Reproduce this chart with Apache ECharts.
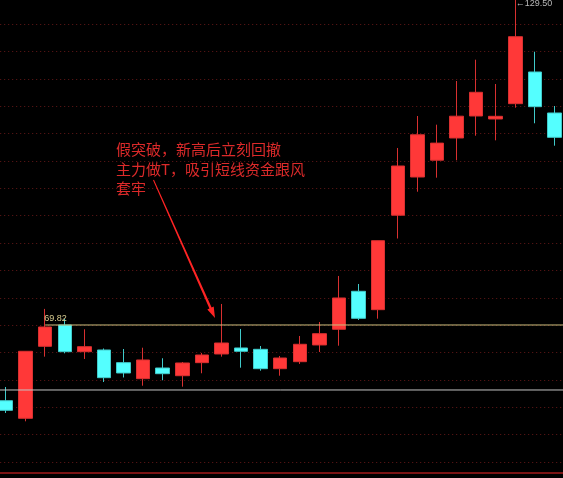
<!DOCTYPE html>
<html><head><meta charset="utf-8">
<style>html,body{margin:0;padding:0;background:#000;overflow:hidden;width:563px;height:478px;position:relative}#c{position:absolute;left:-4px;top:-3px;width:569px;height:481px}</style>
<script src="https://cdn.jsdelivr.net/npm/echarts@6/dist/echarts.min.js"></script>
</head><body><div id="c"></div>
<script>
const categories = ['K01','K02','K03','K04','K05','K06','K07','K08','K09','K10','K11','K12','K13','K14','K15','K16','K17','K18','K19','K20','K21','K22','K23','K24','K25','K26','K27','K28','K29'];
const opens  = [52.08,48.68,62.59,66.71,61.55,61.88,59.43,56.34,58.40,56.91,59.43,61.11,62.27,62.01,58.27,59.62,62.85,65.88,73.22,69.67,87.92,95.30,98.55,102.84,107.09,106.51,109.47,115.59,107.67];
const closes = [50.23,61.63,66.32,61.55,62.52,56.53,57.44,59.95,57.30,59.37,60.91,63.23,61.63,58.27,60.33,62.98,65.03,71.93,68.00,83.00,97.43,103.46,101.85,107.05,111.67,107.03,122.41,108.89,102.97];
const lows   = [49.71,48.10,60.59,61.24,60.14,55.70,56.57,54.98,56.03,54.79,57.38,60.59,58.46,57.88,56.91,59.18,61.49,62.71,67.68,67.93,83.42,92.46,95.17,98.53,103.28,102.39,108.69,105.68,101.35];
const highs  = [54.73,61.65,69.82,67.87,65.88,62.17,62.07,62.32,60.28,59.56,61.30,70.77,65.94,62.65,60.72,64.58,67.29,76.18,74.63,83.02,100.91,107.09,105.41,113.85,117.97,113.27,129.50,119.51,109.02];
const levelPrices = [66.71, 54.15];
const levelStarts = [2, -0.5];
const priceMin = 38.21, priceMax = 130.08;
const gridSteps = 17.39;
const noteLines = ['假突破，新高后立刻回撤','主力做T，吸引短线资金跟风','套牢'];

// the chart container is shifted by (-4, -3) so that the first candle is cut at the left edge
const OX = 4, OY = 3;
const chart = echarts.init(document.getElementById('c'), null, {renderer:'canvas'});
const lastIdx = categories.length - 0.5;
const levelSeries = levelPrices.map((p, k) => ({
  type:'line', xAxisIndex:1, yAxisIndex:0, silent:true, symbol:'none', z:5,
  data:[[levelStarts[k], p],[lastIdx, p]],
  lineStyle:{color: k === 0 ? '#cdbf7e' : '#c4c4c4', width:1}
}));
const arrowPts = [[153.96,179.8],[211.62,307.47],[213.72,306.54],[215,318],[207.33,309.38],[209.42,308.45],[153.04,180.2]]
  .map(p => [p[0] + OX, p[1] + OY]);
chart.setOption({
  animation:false,
  backgroundColor:'#000',
  grid:{left:0.2, right:0.7, top:0, bottom:5.5},
  xAxis:[
    {type:'category', data:categories, boundaryGap:true, position:'bottom',
     axisLine:{show:true, onZero:false, lineStyle:{color:'#7a1414', width:2}},
     axisTick:{show:false}, axisLabel:{show:false}, splitLine:{show:false}},
    {type:'value', min:-0.5, max:categories.length - 0.5, show:false}
  ],
  yAxis:[
    {type:'value', min:priceMin, max:priceMax, show:false, splitLine:{show:false}},
    {type:'value', inverse:true, min:0, max:gridSteps, interval:1, position:'right',
     axisLine:{show:false}, axisTick:{show:false}, axisLabel:{show:false},
     splitLine:{show:true, lineStyle:{color:'#641818', width:1, type:[1,3]}}}
  ],
  series:[
    {type:'candlestick', xAxisIndex:0, yAxisIndex:0, barWidth:14,
     data: opens.map((o,i)=>[o, closes[i], lows[i], highs[i]]),
     itemStyle:{color:'#ff3838', color0:'#54ffff', borderColor:'#d83030', borderColor0:'#40caca', borderWidth:1},
     markPoint:{symbol:'circle', symbolSize:1, silent:true, animation:false,
       itemStyle:{color:'rgba(0,0,0,0)'},
       data:[
         {type:'max', valueDim:'highest',
          label:{show:true, position:'right', distance:0, offset:[0,4], color:'#b8b8b8', fontSize:9, fontFamily:'Liberation Sans',
                 formatter:p=>'←'+Number(p.value).toFixed(2)}},
         {coord:[2, highs[2]], value:highs[2],
          label:{show:true, position:'right', distance:0, offset:[-1.5,10], color:'#d8cc90', fontSize:9, fontFamily:'Liberation Sans',
                 formatter:p=>Number(p.value).toFixed(2)}}
       ]}
    },
    ...levelSeries
  ],
  graphic:[
    {type:'text', left:116 + OX, top:139.5 + OY, z:10, silent:true,
     style:{text:noteLines.join('\n'), fill:'#dc2a2a', font:'15px "Noto Sans CJK SC"', lineHeight:19.6}},
    {type:'polygon', z:10, silent:true,
     shape:{points:arrowPts},
     style:{fill:'#ff2424'}}
  ]
});
</script></body></html>
